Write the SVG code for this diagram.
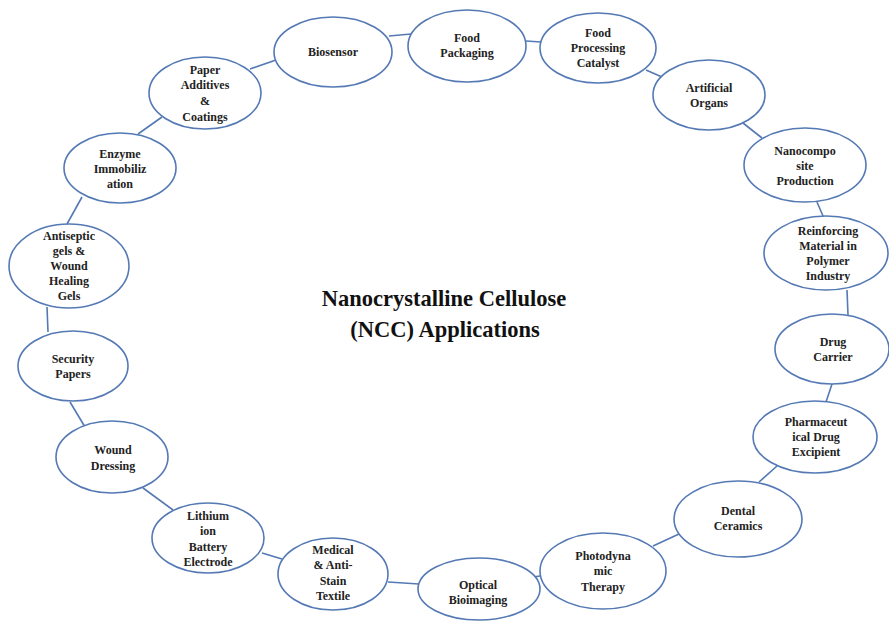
<svg xmlns="http://www.w3.org/2000/svg" width="889" height="621" viewBox="0 0 889 621">
<style>
.n ellipse{fill:#fff;stroke:#5479b4;stroke-width:1.6}
.n text{font-family:"Liberation Serif","Times New Roman",serif;font-weight:bold;font-size:12px;fill:#222;text-anchor:middle}
.c line{stroke:#5479b4;stroke-width:1.6}
.t{font-family:"Liberation Serif","Times New Roman",serif;font-weight:bold;font-size:22.5px;fill:#111;text-anchor:middle}
</style>
<rect width="889" height="621" fill="#fff"/>
<g id="connectors" class="c">
<line x1="389" y1="36" x2="411" y2="34"/>
<line x1="526" y1="41" x2="541" y2="42"/>
<line x1="646" y1="70" x2="662" y2="77"/>
<line x1="743" y1="123" x2="762" y2="138"/>
<line x1="817" y1="202" x2="823" y2="216"/>
<line x1="847" y1="290" x2="848" y2="315"/>
<line x1="832" y1="384" x2="826" y2="402"/>
<line x1="777" y1="466" x2="759" y2="482"/>
<line x1="679" y1="534" x2="653" y2="546"/>
<line x1="540" y1="576" x2="533" y2="577"/>
<line x1="388" y1="582" x2="419" y2="584"/>
<line x1="262" y1="553" x2="282" y2="559"/>
<line x1="143" y1="488" x2="173" y2="510"/>
<line x1="70" y1="402" x2="85" y2="427"/>
<line x1="47" y1="307" x2="48" y2="332"/>
<line x1="82" y1="197" x2="67" y2="224"/>
<line x1="162" y1="117" x2="138" y2="134"/>
<line x1="250" y1="69" x2="276" y2="60"/>
</g>
<g id="biosensor" class="n"><ellipse cx="333" cy="52" rx="59" ry="35"/><text x="333" y="56">Biosensor</text></g>
<g id="food-packaging" class="n"><ellipse cx="467" cy="46" rx="59" ry="36"/><text x="467" y="42">Food</text><text x="467" y="57">Packaging</text></g>
<g id="food-processing" class="n"><ellipse cx="598" cy="48" rx="58" ry="35"/><text x="598" y="37">Food</text><text x="598" y="52">Processing</text><text x="598" y="67">Catalyst</text></g>
<g id="artificial-organs" class="n"><ellipse cx="709" cy="95" rx="56" ry="35"/><text x="709" y="92">Artificial</text><text x="709" y="107">Organs</text></g>
<g id="nanocomposite" class="n"><ellipse cx="805" cy="165" rx="61" ry="37"/><text x="805" y="155">Nanocompo</text><text x="805" y="170">site</text><text x="805" y="185">Production</text></g>
<g id="reinforcing" class="n"><ellipse cx="826" cy="253" rx="62" ry="37"/><text x="828" y="235">Reinforcing</text><text x="828" y="250">Material in</text><text x="828" y="265">Polymer</text><text x="828" y="280">Industry</text></g>
<g id="drug-carrier" class="n"><ellipse cx="832" cy="349" rx="57" ry="35"/><text x="833" y="346">Drug</text><text x="833" y="361">Carrier</text></g>
<g id="pharmaceutical" class="n"><ellipse cx="815" cy="437" rx="62" ry="36"/><text x="816" y="426">Pharmaceut</text><text x="816" y="441">ical Drug</text><text x="816" y="456">Excipient</text></g>
<g id="dental" class="n"><ellipse cx="738" cy="519" rx="64" ry="38"/><text x="738" y="515">Dental</text><text x="738" y="530">Ceramics</text></g>
<g id="photodynamic" class="n"><ellipse cx="603" cy="571" rx="63" ry="38"/><text x="603" y="560">Photodyna</text><text x="603" y="575">mic</text><text x="603" y="591">Therapy</text></g>
<g id="optical" class="n"><ellipse cx="479" cy="589" rx="61" ry="31"/><text x="478" y="589">Optical</text><text x="478" y="604">Bioimaging</text></g>
<g id="medical" class="n"><ellipse cx="333" cy="574" rx="55" ry="36"/><text x="333" y="554">Medical</text><text x="333" y="569">&amp; Anti-</text><text x="333" y="585">Stain</text><text x="333" y="600">Textile</text></g>
<g id="lithium" class="n"><ellipse cx="208" cy="538" rx="56" ry="35"/><text x="208" y="520">Lithium</text><text x="208" y="535">ion</text><text x="208" y="551">Battery</text><text x="208" y="566">Electrode</text></g>
<g id="wound-dressing" class="n"><ellipse cx="112" cy="457" rx="56" ry="36"/><text x="113" y="454">Wound</text><text x="113" y="470">Dressing</text></g>
<g id="security-papers" class="n"><ellipse cx="73" cy="366" rx="55" ry="35"/><text x="73" y="363">Security</text><text x="73" y="378">Papers</text></g>
<g id="antiseptic" class="n"><ellipse cx="69" cy="266" rx="60" ry="42"/><text x="69" y="240">Antiseptic</text><text x="69" y="255">gels &amp;</text><text x="69" y="270">Wound</text><text x="69" y="285">Healing</text><text x="69" y="300">Gels</text></g>
<g id="enzyme" class="n"><ellipse cx="120" cy="168" rx="56" ry="35"/><text x="120" y="158">Enzyme</text><text x="120" y="173">Immobiliz</text><text x="120" y="188">ation</text></g>
<g id="paper-additives" class="n"><ellipse cx="205" cy="93" rx="56" ry="36"/><text x="205" y="74">Paper</text><text x="205" y="89">Additives</text><text x="205" y="105">&amp;</text><text x="205" y="121">Coatings</text></g>
<g id="title"><text class="t" x="444" y="306">Nanocrystalline Cellulose</text><text class="t" x="445" y="337">(NCC) Applications</text></g>
</svg>
